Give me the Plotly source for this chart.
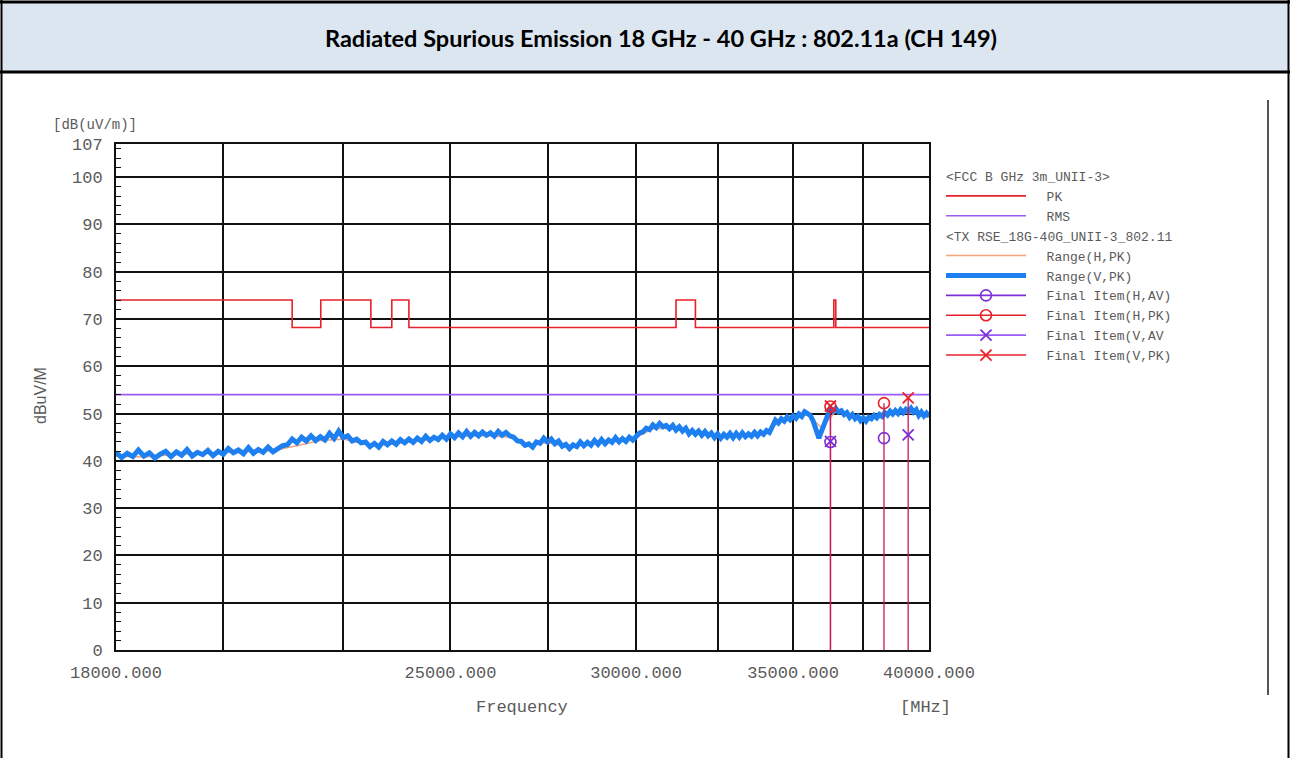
import plotly.graph_objects as go

# ---------------- data ----------------
title_text = "Radiated Spurious Emission 18 GHz - 40 GHz : 802.11a (CH 149)"

# Sweep definition of the analyzer trace (MHz)
sweep_start_mhz = 18000
sweep_step_mhz = 100

# Range(V,PK) trace levels, dB(uV/m), one value per 100 MHz from 18000 to 40000
range_v_pk = [
    41.8, 40.7, 41.6, 40.9, 42.3, 41.0, 41.7, 40.6, 41.4, 42.0,   # 18 GHz
    40.9, 41.9, 41.2, 42.4, 41.0, 41.8, 41.3, 42.2, 41.1, 42.0,   # 19
    41.4, 42.6, 41.7, 42.3, 41.5, 42.8, 41.6, 42.4, 41.8, 42.9,   # 20
    41.9, 42.6, 43.2, 43.4, 44.6, 43.8, 45.0, 44.2, 45.3, 44.3,   # 21
    45.1, 44.4, 45.8, 44.7, 46.3, 44.9, 45.3, 44.2, 44.6, 43.8,   # 22
    44.0, 43.0, 43.7, 42.9, 44.1, 43.4, 44.2, 43.5, 44.5, 43.8,   # 23
    44.6, 43.9, 44.8, 44.1, 45.2, 44.3, 45.0, 44.5, 45.4, 44.6,   # 24
    45.7, 44.9, 45.9, 45.1, 46.2, 45.2, 46.0, 45.3, 46.1, 45.4,   # 25
    45.9, 45.2, 46.2, 45.4, 46.0, 45.3, 45.0, 44.2, 44.1, 43.3,   # 26
    43.6, 42.9, 44.0, 43.7, 44.8, 44.0, 44.6, 43.6, 44.2, 43.1,   # 27
    43.5, 42.6, 43.4, 43.0, 44.0, 43.2, 43.9, 43.3, 44.3, 43.5,   # 28
    44.5, 43.6, 44.4, 43.9, 44.9, 44.0, 44.7, 44.1, 45.0, 44.4,   # 29
    45.0, 45.9, 46.1, 46.9, 46.6, 47.6, 47.0, 47.9, 47.2, 47.5,   # 30
    46.8, 47.5, 46.5, 47.2, 46.3, 46.9, 45.7, 46.4, 45.6, 46.3,   # 31
    45.4, 46.2, 45.3, 45.9, 44.9, 45.7, 44.8, 45.6, 45.0, 45.8,   # 32
    44.9, 45.8, 45.0, 45.9, 45.1, 45.7, 45.2, 46.0, 45.3, 46.1,   # 33
    45.6, 46.4, 46.0, 47.3, 48.6, 48.0, 48.9, 48.4, 49.3, 48.7,   # 34
    49.5, 49.0, 49.9, 49.4, 50.4, 50.0, 49.6, 48.4, 46.8, 44.8,   # 35
    46.4, 48.2, 49.6, 51.0, 50.5, 51.1, 50.3, 50.6, 49.8, 50.2,   # 36
    49.2, 49.8, 48.9, 49.4, 48.5, 49.1, 48.4, 49.2, 48.9, 49.6,   # 37
    49.1, 49.8, 49.4, 50.2, 49.7, 50.5, 49.9, 50.6, 50.0, 50.8,   # 38
    50.2, 50.9, 50.4, 51.1, 50.3, 50.8, 49.6, 50.3, 49.5, 50.1,   # 39
    49.4,                                                          # 40
]

# Range(H,PK) trace levels, one value per 500 MHz from 18000 to 40000
range_h_step_mhz = 500
range_h_pk = [
    41.0, 40.8, 41.3, 41.5, 41.8, 42.0, 42.2, 43.2, 44.3, 44.6,
    43.5, 43.4, 44.0, 44.5, 45.0, 45.3, 45.3, 45.0, 43.5, 43.8,
    43.2, 43.5, 44.0, 44.2, 45.0, 46.8, 46.9, 46.2, 45.6, 45.2,
    45.3, 45.4, 45.7, 48.2, 49.2, 49.8, 47.0, 50.5, 49.3, 48.8,
    49.2, 49.8, 50.2, 50.0, 49.2,
]

# Limit lines
limit_pk_edges_mhz = [18000, 21400, 22010, 23120, 23600, 24000, 31200, 31800, 36430, 36500, 40000]
limit_pk_levels = [74, 68.2, 74, 68.2, 74, 68.2, 74, 68.2, 74, 68.2]
limit_rms_level = 54

# Final items
final_h_freq_mhz = [36310, 38270]
final_h_pk = [51.5, 52.2]
final_h_av = [44.0, 44.8]
final_v_freq_mhz = [36310, 39190]
final_v_pk = [51.6, 53.3]
final_v_av = [44.1, 45.5]

# Axis ticks
x_label_ticks = [18000, 25000, 30000, 35000, 40000]
x_grid_ticks = [20000, 22500, 27500, 32500, 37500]
y_ticks = [0, 10, 20, 30, 40, 50, 60, 70, 80, 90, 100, 107]

# ---------------- layout geometry ----------------
W, H = 1290, 758
PL, PR, PT, PB = 116, 929, 144, 650


def px_x(px):
    return (px - PL) / (PR - PL)


def px_y(py):
    return (PB - py) / (PB - PT)


MONO = "Liberation Mono, Courier New, monospace"
GRAY = "#5a5a5a"
NB = "\u00a0\u00a0"

RED = "#E8202A"
VIOLET = "#9B5CF6"
PURPLE = "#7B2FD6"
ORANGE = "#F4A37A"
BLUE = "#1E80F0"

freq_v = [sweep_start_mhz + i * sweep_step_mhz for i in range(len(range_v_pk))]
freq_h = [sweep_start_mhz + i * range_h_step_mhz for i in range(len(range_h_pk))]

fig = go.Figure()

g1 = "fcc"
g2 = "tx"

fig.add_trace(go.Scatter(
    x=limit_pk_edges_mhz, y=limit_pk_levels + [limit_pk_levels[-1]],
    mode="lines", line=dict(color=RED, width=1.6, shape="hv"),
    name=NB + "PK", legendgroup=g1,
    legendgrouptitle=dict(text="&lt;FCC B GHz 3m_UNII-3&gt;", font=dict(family=MONO, size=13, color=GRAY)),
))
fig.add_trace(go.Scatter(
    x=[limit_pk_edges_mhz[0], limit_pk_edges_mhz[-1]], y=[limit_rms_level, limit_rms_level],
    mode="lines", line=dict(color=VIOLET, width=1.6),
    name=NB + "RMS", legendgroup=g1,
))
fig.add_trace(go.Scatter(
    x=freq_h, y=range_h_pk, mode="lines", line=dict(color=ORANGE, width=1.6),
    name=NB + "Range(H,PK)", legendgroup=g2,
    legendgrouptitle=dict(text="&lt;TX RSE_18G-40G_UNII-3_802.11", font=dict(family=MONO, size=13, color=GRAY)),
))
fig.add_trace(go.Scatter(
    x=freq_v, y=range_v_pk, mode="lines", line=dict(color=BLUE, width=5),
    name=NB + "Range(V,PK)", legendgroup=g2,
))

# vertical stems of final items (from 0 up to the PK reading)
stem_x, stem_y = [], []
for f, v in list(zip(final_h_freq_mhz, final_h_pk)) + list(zip(final_v_freq_mhz, final_v_pk)):
    stem_x += [f, f, None]
    stem_y += [0, v, None]
fig.add_trace(go.Scatter(
    x=stem_x, y=stem_y, mode="lines", line=dict(color="#C8185A", width=1.3),
    showlegend=False, hoverinfo="skip",
))


def sep(vals):
    out = []
    for i, v in enumerate(vals):
        if i:
            out.append(None)
        out.append(v)
    return out


fig.add_trace(go.Scatter(
    x=sep(final_h_freq_mhz), y=sep(final_h_av), mode="lines+markers",
    line=dict(color=PURPLE, width=1.6),
    marker=dict(symbol="circle-open", size=11, color=PURPLE, line=dict(width=1.6)),
    name=NB + "Final Item(H,AV)", legendgroup=g2,
))
fig.add_trace(go.Scatter(
    x=sep(final_h_freq_mhz), y=sep(final_h_pk), mode="lines+markers",
    line=dict(color=RED, width=1.6),
    marker=dict(symbol="circle-open", size=11, color=RED, line=dict(width=1.6)),
    name=NB + "Final Item(H,PK)", legendgroup=g2,
))
fig.add_trace(go.Scatter(
    x=sep(final_v_freq_mhz), y=sep(final_v_av), mode="lines+markers",
    line=dict(color=VIOLET, width=1.6),
    marker=dict(symbol="x-thin-open", size=11, color=PURPLE, line=dict(width=1.8, color=PURPLE)),
    name=NB + "Final Item(V,AV", legendgroup=g2,
))
fig.add_trace(go.Scatter(
    x=sep(final_v_freq_mhz), y=sep(final_v_pk), mode="lines+markers",
    line=dict(color=RED, width=1.6),
    marker=dict(symbol="x-thin-open", size=11, color=RED, line=dict(width=1.8, color=RED)),
    name=NB + "Final Item(V,PK)", legendgroup=g2,
))

# ---------------- decorations ----------------
shapes = [
    # header band
    dict(type="rect", xref="paper", yref="paper", x0=px_x(2), x1=px_x(1288), y0=px_y(71), y1=px_y(3),
         fillcolor="#DCE6F1", line=dict(width=0), layer="below"),
    dict(type="line", xref="paper", yref="paper", x0=px_x(0), x1=px_x(1290), y0=px_y(2), y1=px_y(2),
         line=dict(color="black", width=3)),
    dict(type="line", xref="paper", yref="paper", x0=px_x(0), x1=px_x(1290), y0=px_y(72), y1=px_y(72),
         line=dict(color="black", width=3)),
    dict(type="line", xref="paper", yref="paper", x0=px_x(1.5), x1=px_x(1.5), y0=px_y(0), y1=px_y(758),
         line=dict(color="black", width=2)),
    dict(type="line", xref="paper", yref="paper", x0=px_x(1288.5), x1=px_x(1288.5), y0=px_y(0), y1=px_y(758),
         line=dict(color="black", width=2)),
    # right edge of the embedded chart
    dict(type="line", xref="paper", yref="paper", x0=px_x(1268), x1=px_x(1268), y0=px_y(100), y1=px_y(695),
         line=dict(color="#555555", width=2)),
]

annotations = [
    dict(text="<b>" + title_text + "</b>", xref="paper", yref="paper", x=px_x(661), y=px_y(38),
         showarrow=False, xanchor="center", yanchor="middle",
         font=dict(family="Lato, Liberation Sans, sans-serif", size=23.5, color="black")),
    dict(text="[dB(uV/m)]", xref="paper", yref="paper", x=px_x(95), y=px_y(125),
         showarrow=False, xanchor="center", yanchor="middle", font=dict(family=MONO, size=14, color=GRAY)),
    dict(text="[MHz]", xref="paper", yref="paper", x=px_x(925), y=px_y(707),
         showarrow=False, xanchor="center", yanchor="middle", font=dict(family=MONO, size=17, color=GRAY)),
    dict(text="dBuV/M", xref="paper", yref="paper", x=px_x(40), y=px_y(396), textangle=-90,
         showarrow=False, xanchor="center", yanchor="middle",
         font=dict(family="Liberation Sans, Arial, sans-serif", size=16, color=GRAY)),
    dict(text="Frequency", xref="paper", yref="paper", x=px_x(522), y=px_y(707),
         showarrow=False, xanchor="center", yanchor="middle", font=dict(family=MONO, size=17, color=GRAY)),
]

fig.update_layout(
    width=W, height=H,
    margin=dict(l=PL, r=W - PR, t=PT, b=H - PB),
    paper_bgcolor="white", plot_bgcolor="white",
    showlegend=True,
    legend=dict(x=px_x(941), y=px_y(161), xanchor="left", yanchor="top",
                font=dict(family=MONO, size=13, color=GRAY), bgcolor="rgba(0,0,0,0)",
                tracegroupgap=0, itemwidth=80, traceorder="grouped", itemclick=False),
    shapes=shapes, annotations=annotations,
)

fig.update_xaxes(
    type="log", range=[4.2552725, 4.6020600],
    tickvals=x_label_ticks, ticktext=[f"{v:.3f}" for v in x_label_ticks],
    tickfont=dict(family=MONO, size=17, color=GRAY),
    ticks="", ticklabelstandoff=6,
    showgrid=True, gridcolor="#111111", gridwidth=1.6,
    minor=dict(tickvals=x_grid_ticks, showgrid=True, gridcolor="#111111", gridwidth=1.6, ticks=""),
    showline=True, linecolor="#111111", linewidth=2, mirror=True,
    zeroline=False,
)
fig.update_yaxes(
    range=[0, 107], tickvals=y_ticks, ticktext=[str(v) for v in y_ticks],
    tickfont=dict(family=MONO, size=17, color=GRAY),
    ticks="inside", ticklen=8, tickwidth=2, tickcolor="#111111", ticklabelstandoff=8,
    minor=dict(dtick=2, ticks="inside", ticklen=5, tickcolor="#111111", tickwidth=1, showgrid=False),
    showgrid=True, gridcolor="#111111", gridwidth=1.6,
    showline=True, linecolor="#111111", linewidth=2, mirror=True,
    zeroline=False,
)

fig.write_html(
    "out.html",
    config={"displayModeBar": False},
    post_script="document.body.style.margin='0';document.body.style.overflow='hidden';",
)
